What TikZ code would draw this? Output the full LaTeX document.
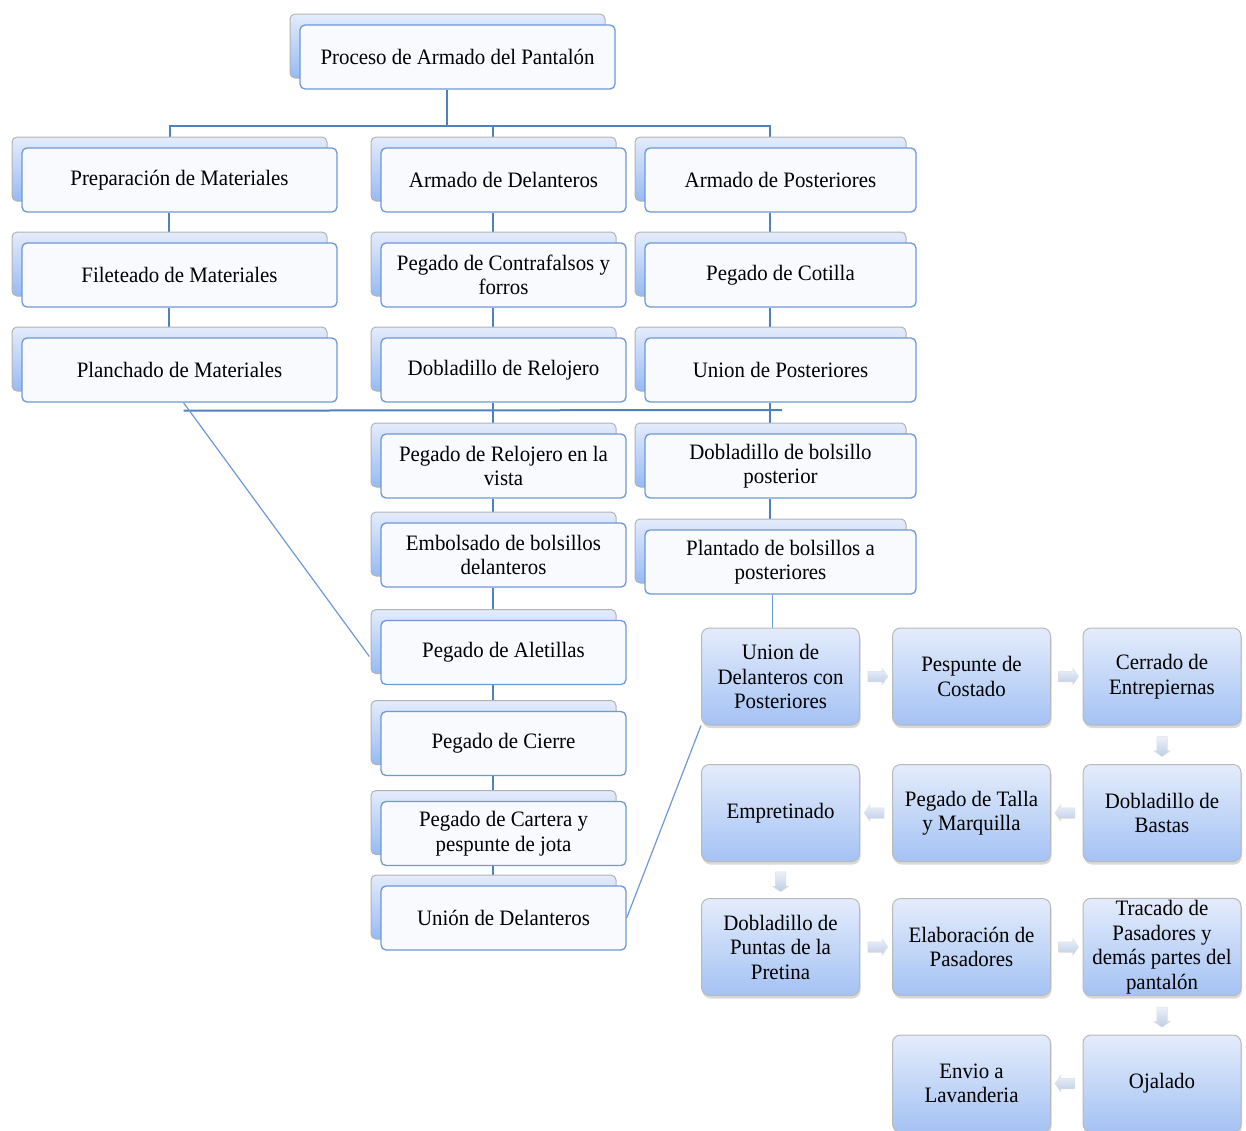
\documentclass[tikz,border=0pt]{standalone}
\usepackage{fontspec}
\setmainfont{Liberation Serif}[FakeStretch=0.95]
\usetikzlibrary{positioning,shadows,shapes.arrows,backgrounds,calc}
\definecolor{linec}{RGB}{79,129,189}
\definecolor{edgec}{RGB}{112,152,212}
\definecolor{backtop}{RGB}{228,236,251}
\definecolor{backbot}{RGB}{150,186,244}
\definecolor{boxtop}{RGB}{228,236,251}
\definecolor{boxbot}{RGB}{164,194,244}
\definecolor{arrtop}{RGB}{236,241,250}
\definecolor{arrbot}{RGB}{190,204,228}
\tikzset{
  txt/.style={font=\fontsize{22}{24.5}\selectfont, align=center, text=black},
  card/.style={
    txt, draw=edgec, line width=1.3pt,
    fill={rgb,255:red,248;green,250;blue,254},
    rounded corners=5pt, minimum height=64pt, inner sep=2pt,
    general shadow={shadow xshift=-10pt, shadow yshift=11pt,
      draw=gray!60, line width=1pt, top color=backtop, bottom color=backbot},
  },
  cardA/.style={card, minimum width=315pt},
  cardB/.style={card, minimum width=245pt},
  cardC/.style={card, minimum width=271pt},
  procbox/.style={
    txt, draw=gray!55, line width=1pt, rounded corners=8pt,
    top color=boxtop, bottom color=boxbot,
    minimum width=158pt, minimum height=97pt, inner sep=2pt,
    drop shadow={shadow xshift=1pt, shadow yshift=-3pt, opacity=0.3},
  },
  flecha/.style={
    single arrow, single arrow head extend=3pt, single arrow tip angle=110,
    minimum height=20pt, inner sep=5pt,
    top color=arrtop, bottom color=arrbot, draw=gray!25, line width=0.5pt,
  },
  tree/.style={draw=linec, line width=2pt},
  fino/.style={draw=edgec, line width=1.2pt},
}
\begin{document}
\begin{tikzpicture}[x=1pt, y=-1pt]
  \useasboundingbox (0,0) rectangle (1246,1130);

  % Cabecera
  \node[cardA] (proc) at (457.5,57) {Proceso de Armado del Pantalón};

  % Columna 1
  \node[cardA] (prep)  at (179.5,180) {Preparación de Materiales};
  \node[cardA] (filet) at (179.5,275) {Fileteado de Materiales};
  \node[cardA] (planch) at (179.5,370) {Planchado de Materiales};

  % Columna 2
  \node[cardB] (adel)  at (503.5,180) {Armado de Delanteros};
  \node[cardB] (contra) at (503.5,275) {Pegado de Contrafalsos y\\forros};
  \node[cardB] (dobrel) at (503.5,370) {Dobladillo de Relojero};
  \node[cardB] (pegrel) at (503.5,466) {Pegado de Relojero en la\\vista};
  \node[cardB] (embol) at (503.5,555) {Embolsado de bolsillos\\delanteros};
  \node[cardB] (alet)  at (503.5,652.5) {Pegado de Aletillas};
  \node[cardB] (cierre) at (503.5,743.5) {Pegado de Cierre};
  \node[cardB] (cart)  at (503.5,833.5) {Pegado de Cartera y\\pespunte de jota};
  \node[cardB] (udel)  at (503.5,918) {Unión de Delanteros};

  % Columna 3
  \node[cardC] (apos)  at (780.5,180) {Armado de Posteriores};
  \node[cardC] (cotil) at (780.5,275) {Pegado de Cotilla};
  \node[cardC] (upos)  at (780.5,370) {Union de Posteriores};
  \node[cardC] (dobbol) at (780.5,466) {Dobladillo de bolsillo\\posterior};
  \node[cardC] (plant) at (780.5,562) {Plantado de bolsillos a\\posteriores};

  % Proceso final
  \node[procbox] (udp)   at (780.5,676.5) {Union de\\Delanteros con\\Posteriores};
  \node[procbox] (pesp)  at (971.5,676.5) {Pespunte de\\Costado};
  \node[procbox] (cerr)  at (1162,676.5) {Cerrado de\\Entrepiernas};
  \node[procbox] (empr)  at (780.5,813) {Empretinado};
  \node[procbox] (talla) at (971.5,813) {Pegado de Talla\\y Marquilla};
  \node[procbox] (bastas) at (1162,813) {Dobladillo de\\Bastas};
  \node[procbox] (puntas) at (780.5,947) {Dobladillo de\\Puntas de la\\Pretina};
  \node[procbox] (pasad) at (971.5,947) {Elaboración de\\Pasadores};
  \node[procbox] (trac)  at (1162,947) {Tracado de\\Pasadores y\\demás partes del\\pantalón};
  \node[procbox] (envio) at (971.5,1083.5) {Envio a\\Lavanderia};
  \node[procbox] (ojal)  at (1162,1083.5) {Ojalado};

  % Flechas
  \node[flecha] at ($(udp.east)!0.5!(pesp.west)$) {};
  \node[flecha] at ($(pesp.east)!0.5!(cerr.west)$) {};
  \node[flecha, shape border rotate=270] at ($(cerr.south)!0.5!(bastas.north)$) {};
  \node[flecha, shape border rotate=180] at ($(bastas.west)!0.5!(talla.east)$) {};
  \node[flecha, shape border rotate=180] at ($(talla.west)!0.5!(empr.east)$) {};
  \node[flecha, shape border rotate=270] at ($(empr.south)!0.5!(puntas.north)$) {};
  \node[flecha] at ($(puntas.east)!0.5!(pasad.west)$) {};
  \node[flecha] at ($(pasad.east)!0.5!(trac.west)$) {};
  \node[flecha, shape border rotate=270] at ($(trac.south)!0.5!(ojal.north)$) {};
  \node[flecha, shape border rotate=180] at ($(ojal.west)!0.5!(envio.east)$) {};

  % Conectores
  \begin{scope}[on background layer]
    \draw[tree] ([xshift=-11pt]proc.south) -- ++(0,36) coordinate (bus);
    \draw[tree] (bus) -| ([xshift=-10pt]prep.north);
    \draw[tree] (bus) -| ([xshift=-11pt]adel.north);
    \draw[tree] (bus) -| ([xshift=-11pt]apos.north);
    \foreach \a/\b in {prep/filet, filet/planch,
        adel/contra, contra/dobrel, dobrel/pegrel, pegrel/embol,
        embol/alet, alet/cierre, cierre/cart, cart/udel,
        apos/cotil, cotil/upos, upos/dobbol, dobbol/plant}
      \draw[tree] ([xshift=-11pt]\a.south) -- ([xshift=-11pt]\b.north);
    \coordinate (h1) at ([xshift=4pt, yshift=-8pt]planch.south);
    \coordinate (h2) at (782,410);
    \draw[tree] (h1) -- (h2);
    \draw[fino] ([xshift=4pt]planch.south) -- ([xshift=-11pt, yshift=-4pt]alet.west);
    \draw[fino] ([xshift=-8pt]plant.south) -- ([xshift=-8pt]udp.north);
    \draw[fino] (udel.east) -- (udp.south west);
  \end{scope}
\end{tikzpicture}
\end{document}
